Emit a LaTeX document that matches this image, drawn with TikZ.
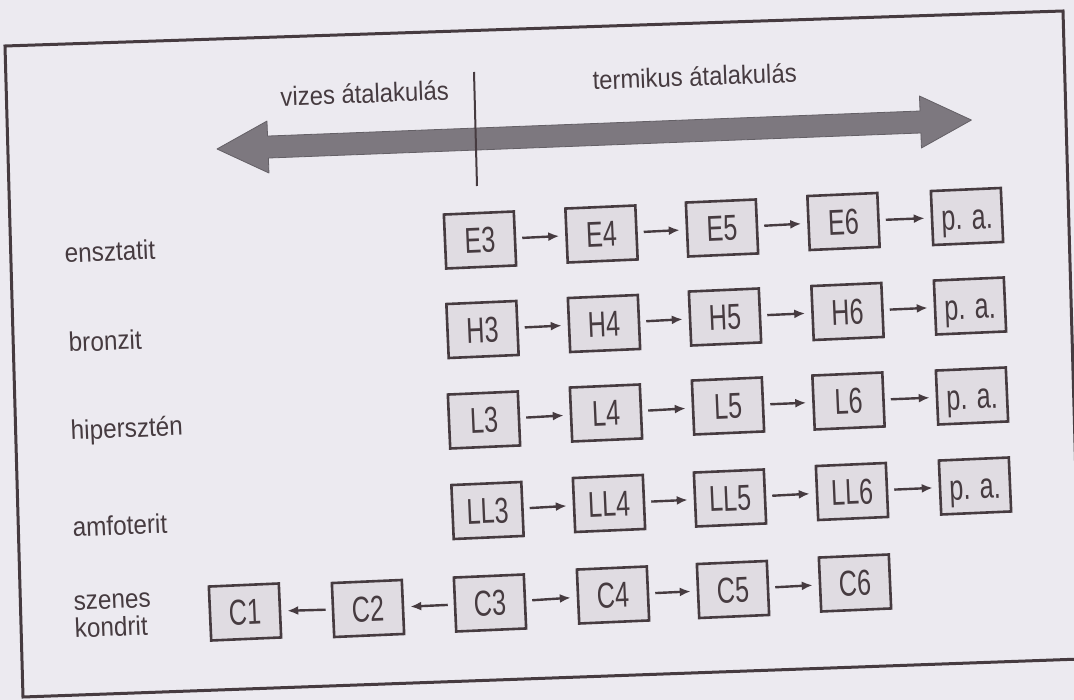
\documentclass[tikz,border=0pt]{standalone}
\usepackage{fontspec}
\setmainfont[FakeStretch=0.9]{Liberation Sans}
\newfontfamily\boxfont[FakeStretch=0.7]{Liberation Sans}
\usetikzlibrary{arrows.meta}
\definecolor{paper}{HTML}{ECEAF0}
\definecolor{ink}{HTML}{463B40}
\definecolor{boxfill}{HTML}{E0DCE2}
\definecolor{arrowgray}{HTML}{7D787F}
\begin{document}
\begin{tikzpicture}[x=1pt,y=-1pt,
  stage/.style={draw=ink, line width=2.6pt, fill=boxfill, minimum width=70pt,
    minimum height=54pt, inner sep=0pt, rotate=2.5,
    text height=26pt, text depth=0pt,
    font=\boxfont\fontsize{36}{38}\selectfont, text=ink},
  rowlab/.style={anchor=base west, rotate=2.5, inner sep=0pt,
    font=\fontsize{27}{28}\selectfont, text=ink, align=left},
  headlab/.style={anchor=base, rotate=2.2, inner sep=0pt,
    font=\fontsize{26.5}{28}\selectfont, text=ink},
  conn/.style={draw=ink, line width=2.4pt, -{Latex[length=11pt,width=9pt]},
    shorten <=6pt, shorten >=6pt}]
\useasboundingbox (0,0) rectangle (1074,700);
\fill[paper] (0,0) rectangle (1074,700);
% frame
\draw[ink, line width=3pt, line join=miter] (5,46) -- (1063,11) -- (1081,659) -- (23,697) -- cycle;
% big double arrow
\begin{scope}[shift={(217,149)}, rotate=2.2]
  \filldraw[fill=arrowgray, draw=arrowgray!80!black, line width=0.8pt, line join=round]
    (0,0) -- (51,-26) -- (51,-11) -- (704,-11) -- (704,-26) -- (755,0)
    -- (704,26) -- (704,11) -- (51,11) -- (51,26) -- cycle;
\end{scope}
% divider
\coordinate (dtop) at (474,72);
\coordinate (dbot) at (477,186);
\draw[ink, line width=2pt] (dtop) -- (dbot);
\node[headlab] (vizes) at (365,103) {vizes átalakulás};
\node[headlab] (termikus) at (695,86) {termikus átalakulás};
% row labels
\node[rowlab] (lE) at (65,263) {ensztatit};
\node[rowlab] (lH) at (69,352) {bronzit};
\node[rowlab] (lL) at (71,440) {hipersztén};
\node[rowlab] (lLL) at (73,537) {amfoterit};
\node[rowlab] (lC) at (75,638) {szenes\\[-0.5pt]kondrit};
% E row
\node[stage] (E3) at (480,240) {E3};
\node[stage] (E4) at (601.5,234) {E4};
\node[stage] (E5) at (722,228) {E5};
\node[stage] (E6) at (843.5,221.5) {E6};
\node[stage] (pE) at (967,216.5) {p. a.};
% H row
\node[stage] (H3) at (482.5,329.5) {H3};
\node[stage] (H4) at (604,323.5) {H4};
\node[stage] (H5) at (725,317) {H5};
\node[stage] (H6) at (847.5,311.5) {H6};
\node[stage] (pH) at (970,306) {p. a.};
% L row
\node[stage] (L3) at (484,420) {L3};
\node[stage] (L4) at (606,413) {L4};
\node[stage] (L5) at (728,406) {L5};
\node[stage] (L6) at (848.5,401) {L6};
\node[stage] (pL) at (972,396) {p. a.};
% LL row
\node[stage] (LL3) at (487.5,510.5) {LL3};
\node[stage] (LL4) at (609,503.5) {LL4};
\node[stage] (LL5) at (730,498) {LL5};
\node[stage] (LL6) at (852,491.5) {LL6};
\node[stage] (pLL) at (975,486) {p. a.};
% C row
\node[stage] (C1) at (245,612) {C1};
\node[stage] (C2) at (368,608.5) {C2};
\node[stage] (C3) at (490,603) {C3};
\node[stage] (C4) at (613,595) {C4};
\node[stage] (C5) at (733,589.5) {C5};
\node[stage] (C6) at (855,583) {C6};
% connectors
\draw[conn] (E3) -- (E4);
\draw[conn] (E4) -- (E5);
\draw[conn] (E5) -- (E6);
\draw[conn] (E6) -- (pE);
\draw[conn] (H3) -- (H4);
\draw[conn] (H4) -- (H5);
\draw[conn] (H5) -- (H6);
\draw[conn] (H6) -- (pH);
\draw[conn] (L3) -- (L4);
\draw[conn] (L4) -- (L5);
\draw[conn] (L5) -- (L6);
\draw[conn] (L6) -- (pL);
\draw[conn] (LL3) -- (LL4);
\draw[conn] (LL4) -- (LL5);
\draw[conn] (LL5) -- (LL6);
\draw[conn] (LL6) -- (pLL);
\draw[conn] (C3) -- (C2);
\draw[conn] (C2) -- (C1);
\draw[conn] (C3) -- (C4);
\draw[conn] (C4) -- (C5);
\draw[conn] (C5) -- (C6);
\end{tikzpicture}
\end{document}
